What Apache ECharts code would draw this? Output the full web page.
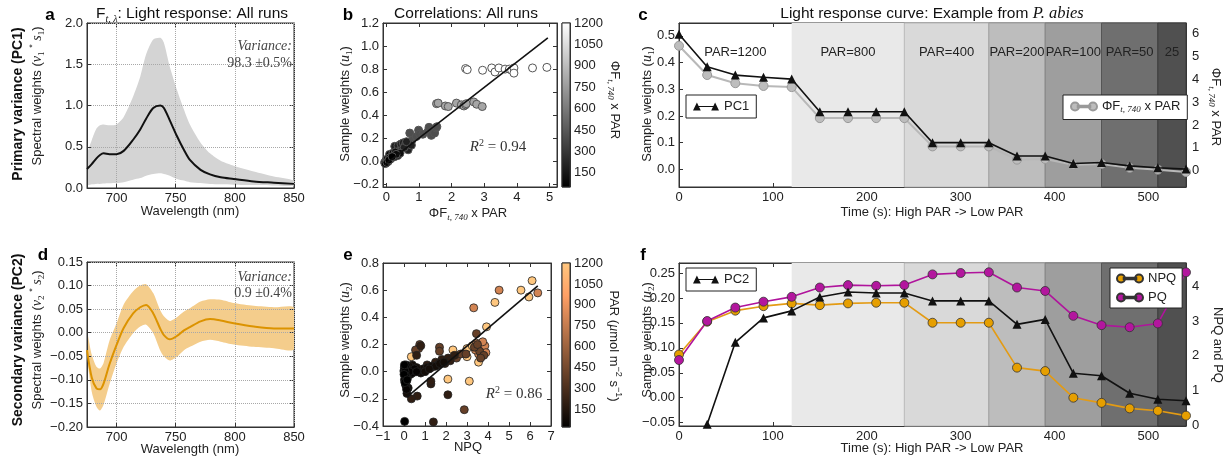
<!DOCTYPE html>
<html><head><meta charset="utf-8">
<script src="https://cdn.jsdelivr.net/npm/echarts@6/dist/echarts.min.js"></script>
<style>html,body{margin:0;padding:0;background:#fff}#c{width:1231px;height:463px}</style>
</head><body><div id="c"></div>
<script>
// ---------------- DATA ----------------
// Panels a / d : spectral weights vs wavelength
const wavelength = [675,679,683,686,689,694,700,706,714,720,725,731,737,740,745,751,757,762,771,779,788,799,816,833,850];
const pc1Mean  = [0.23,0.29,0.36,0.40,0.42,0.41,0.41,0.45,0.585,0.71,0.84,0.97,1.0,0.97,0.82,0.63,0.46,0.34,0.22,0.165,0.13,0.11,0.08,0.065,0.05];
const pc1Upper = [0.40,0.58,0.72,0.76,0.77,0.76,0.77,0.86,1.11,1.35,1.62,1.80,1.82,1.76,1.47,1.19,0.95,0.77,0.55,0.42,0.33,0.27,0.20,0.14,0.09];
const pc1Lower = [0.04,0.045,0.05,0.05,0.055,0.058,0.06,0.07,0.10,0.12,0.15,0.17,0.18,0.17,0.15,0.11,0.09,0.07,0.06,0.05,0.045,0.04,0.035,0.03,0.03];
const pc2Mean  = [-0.037,-0.095,-0.118,-0.12,-0.108,-0.067,-0.026,0.01,0.041,0.054,0.059,0.041,0.008,-0.005,-0.014,-0.007,0.005,0.012,0.024,0.029,0.026,0.020,0.013,0.009,0.009];
const pc2Upper = [0.002,-0.046,-0.072,-0.076,-0.064,-0.017,0.02,0.06,0.088,0.10,0.103,0.084,0.047,0.035,0.025,0.033,0.045,0.052,0.066,0.071,0.070,0.063,0.057,0.054,0.053];
const pc2Lower = [-0.047,-0.125,-0.157,-0.165,-0.153,-0.11,-0.065,-0.03,-0.001,0.013,0.017,-0.001,-0.038,-0.05,-0.059,-0.051,-0.037,-0.03,-0.019,-0.015,-0.019,-0.025,-0.030,-0.033,-0.035];

// Panel b : sample weights u1 vs PhiF x PAR, grouped by PAR
const bPAR = [1200, 800, 400, 200, 100, 50];
const b1200 = [[2.43,0.805],[2.48,0.795],[2.95,0.79],[3.23,0.81],[3.33,0.775],[3.45,0.81],[3.64,0.80],[3.77,0.80],[3.84,0.79],[3.91,0.81],[3.91,0.765],[4.48,0.81],[4.92,0.815]];
const b800  = [[1.54,0.50],[1.59,0.505],[1.81,0.48],[1.90,0.475],[2.15,0.505],[2.30,0.49],[2.38,0.48],[2.43,0.49],[2.45,0.50],[2.68,0.515],[2.77,0.495],[2.94,0.475]];
const b400  = [[0.72,0.245],[0.78,0.18],[0.92,0.215],[0.99,0.27],[1.02,0.235],[1.12,0.235],[1.28,0.26],[1.31,0.295],[1.38,0.225],[1.48,0.245],[1.52,0.29],[1.55,0.30]];
const b200  = [[0.26,0.13],[0.36,0.135],[0.45,0.15],[0.52,0.16],[0.60,0.155],[0.67,0.10],[0.77,0.14],[0.42,0.09],[0.55,0.12],[0.32,0.08],[0.62,0.17]];
const b100  = [[0.10,0.06],[0.20,0.07],[0.28,0.08],[0.35,0.05],[0.42,0.07],[0.15,0.03],[0.25,0.04],[0.30,0.06]];
const b50   = [[-0.05,-0.01],[0.0,0.01],[0.03,0.02],[0.06,0.0],[0.10,0.03],[0.13,0.02],[-0.03,-0.02],[0.02,-0.01],[0.08,0.01],[0.18,0.04]];
const bFit  = [[-0.05,-0.03],[4.95,1.07]];
const bColorRange = [50, 1200];
const cbTicks = [150,300,450,600,750,900,1050,1200];

// Panels c / f : time course
const time = [0,30,60,90,120,150,180,210,240,270,300,330,360,390,420,450,480,510,540];
const pc1Time = [0.506,0.384,0.353,0.345,0.338,0.216,0.216,0.216,0.216,0.10,0.10,0.10,0.05,0.05,0.022,0.026,0.013,0.006,0.001];
const phiF    = [5.47,4.19,3.83,3.71,3.66,2.30,2.30,2.30,2.30,1.06,1.06,1.06,0.48,0.51,0.26,0.29,0.12,0.04,-0.06];
const pc2Time = [null,-0.053,0.111,0.160,0.174,0.202,0.212,0.210,0.210,0.194,0.194,0.194,0.147,0.157,0.049,0.044,0.009,-0.003,-0.006];
const npq     = [2.04,2.99,3.31,3.44,3.52,3.47,3.52,3.54,3.54,2.96,2.96,2.96,1.66,1.56,0.79,0.64,0.48,0.41,0.27];
const pq      = [1.88,3.01,3.40,3.57,3.71,3.98,4.05,4.03,4.05,4.36,4.40,4.42,3.98,3.88,3.16,2.89,2.83,2.94,4.42];
const bandEdges  = [0,120,240,330,390,450,510,540];
const bandLabels = ['PAR=1200','PAR=800','PAR=400','PAR=200','PAR=100','PAR=50','25'];

// Panel e : sample weights u2 vs NPQ, grouped by PAR
const ePAR = [1200, 800, 400, 200, 100, 50, 25];
const e1200 = [[6.10,0.67],[5.95,0.55],[5.57,0.60],[4.33,0.51],[3.93,0.33],[3.00,0.17],[2.33,0.16],[2.09,-0.055],[3.11,-0.07],[0.35,0.11],[3.55,0.07],[3.25,0.19],[3.60,0.20],[3.00,0.11]];
const e800  = [[6.37,0.58],[4.53,0.60],[3.32,0.47],[3.70,0.17],[3.45,0.21],[3.85,0.19],[3.55,0.13],[3.75,0.22],[3.40,0.16],[3.90,0.14]];
const e400  = [[3.45,0.28],[2.87,-0.28],[3.60,0.15],[3.80,0.12],[3.65,0.10],[3.35,0.18],[2.50,0.10],[2.70,0.13],[1.69,0.18],[1.69,0.15],[0.75,0.20],[0.70,0.17],[0.55,0.16],[3.50,0.20],[2.95,0.13]];
const e200  = [[1.40,-0.37],[2.09,-0.17],[1.28,-0.09],[1.28,-0.07],[0.63,-0.18],[0.35,-0.20],[0.80,0.19],[0.60,0.12],[1.10,0.05],[1.50,0.07],[1.80,0.09],[2.10,0.10],[2.20,0.08],[2.40,0.12],[1.95,0.06],[1.60,0.05],[1.30,0.03],[0.95,0.02]];
const e100  = [[0.14,-0.16],[0.20,-0.12],[0.10,-0.08],[0.15,-0.05],[0.30,-0.02],[0.50,0.0],[0.70,0.01],[0.90,0.02],[1.10,0.03],[1.30,0.04],[1.50,0.04],[1.70,0.06],[1.90,0.07],[0.40,0.05],[0.60,0.03],[0.80,-0.01],[1.00,0.0],[1.20,0.02],[0.25,0.04],[0.05,0.02]];
const e50   = [[0.0,0.0],[0.05,-0.02],[0.10,0.02],[0.15,0.0],[0.20,-0.01],[0.30,0.01],[0.40,-0.01],[0.50,0.02],[0.05,0.04],[0.10,-0.04],[0.02,-0.06],[0.08,-0.10],[0.12,-0.13],[0.25,0.0],[0.60,0.0]];
const e25   = [[0.03,-0.366],[0.0,0.01],[0.02,0.03],[0.05,0.0],[0.08,-0.03],[0.0,-0.02],[0.10,0.05],[0.04,-0.08],[0.15,-0.06],[0.02,0.05]];
const eFit  = [[0.14,-0.187],[6.37,0.631]];
const eColorRange = [25, 1200];

// ---------------- BUILD ----------------
const FONT = 'Liberation Sans', SERIF = 'Liberation Serif';
const zip = (xs, ys) => xs.map((x, i) => [x, ys[i]]);
const tagPAR = (groups, pars) => groups.flatMap((g, k) => g.map(p => [p[0], p[1], pars[k]]));
const bData = tagPAR([b1200,b800,b400,b200,b100,b50], bPAR);
const eData = tagPAR([e1200,e800,e400,e200,e100,e50,e25], ePAR);
const copper = ['#000000','#402819','#805032','#bf784c','#ff9f65','#ffc77f'];
const fmt = n => v => (v < 0 ? '\u2212' : '') + Math.abs(v).toFixed(n);

function vAxis(gridIndex, min, max, ticks, f, extra) {
  return Object.assign({
    type: 'value', gridIndex, min, max,
    axisLine: {show: true, onZero: false, lineStyle: {color: '#333'}},
    axisTick: {show: true, inside: true, length: 4, lineStyle: {color: '#333'}, customValues: ticks},
    axisLabel: {customValues: ticks, formatter: f, color: '#222', fontSize: 13, fontFamily: FONT, margin: 4},
    splitLine: {show: false}
  }, extra || {});
}
// tick-only mirror axis (matplotlib draws ticks on all four sides)
function mirror(gridIndex, min, max, ticks, position) {
  return {type: 'value', gridIndex, min, max, position,
    axisLine: {show: true, onZero: false, lineStyle: {color: '#333'}},
    axisTick: {show: true, inside: true, length: 4, lineStyle: {color: '#333'}, customValues: ticks},
    axisLabel: {show: false}, splitLine: {show: false}};
}
const dotted = {show: true, lineStyle: {color: '#a8a8a8', type: 'dotted', width: 1}};
const G = (left, top, width, height) => ({left, top, width, height, show: true, borderColor: '#333', borderWidth: 1, backgroundColor: 'transparent'});

const bandFill = ['rgba(0,0,0,0)','#e9e9e9','#d9d9d9','#bdbdbd','#9e9e9e','#6f6f6f','#505050'];
const bandBorder = ['rgba(0,0,0,0)','rgba(0,0,0,0)','#b8b8b8','#a0a0a0','#808080','#555555','#3a3a3a'];
function bands(withLabels) {
  const data = [];
  for (let i = 0; i < bandEdges.length - 1; i++) {
    data.push([{xAxis: bandEdges[i], name: withLabels ? bandLabels[i] : '',
      itemStyle: {color: bandFill[i], borderColor: bandBorder[i], borderWidth: 1}},
      {xAxis: bandEdges[i + 1]}]);
  }
  return {silent: true, data,
    label: {show: withLabels, position: 'insideTop', distance: 23, color: '#222', fontSize: 13, fontFamily: FONT}};
}

function colorbar(xi, yi, range, stops) {
  return {type: 'custom', xAxisIndex: xi, yAxisIndex: yi, silent: true, data: [[0, range[0]]],
    renderItem: (params, api) => {
      const p0 = api.coord([0, range[1]]), p1 = api.coord([1, range[0]]);
      return {type: 'rect', shape: {x: p0[0], y: p0[1], width: p1[0] - p0[0], height: p1[1] - p0[1]},
        style: {fill: new echarts.graphic.LinearGradient(0, 0, 0, 1, stops), stroke: '#333', lineWidth: 1}};
    }};
}

// shaded envelope between lower and upper, drawn through the axis scales
function band(xi, yi, lower, upper, color) {
  return {type: 'custom', xAxisIndex: xi, yAxisIndex: yi, silent: true, clip: true, z: 0,
    data: wavelength.map((w, i) => [w, lower[i], upper[i]]),
    renderItem: (params, api) => {
      if (params.dataIndex !== 0) return null;
      const top = wavelength.map((w, i) => api.coord([w, upper[i]]));
      const bot = wavelength.map((w, i) => api.coord([w, lower[i]])).reverse();
      return {type: 'polygon', shape: {points: top.concat(bot), smooth: 0.25}, style: {fill: color}};
    }};
}

const R = {
  n: {fontFamily: FONT, fontSize: 13, fill: '#222', color: '#222', lineHeight: 18},
  bo: {fontFamily: FONT, fontSize: 14, fontWeight: 'bold', fill: '#111', color: '#111', lineHeight: 18},
  i: {fontFamily: SERIF, fontSize: 14, fontStyle: 'italic', fill: '#222', color: '#222', lineHeight: 18},
  s: {fontFamily: SERIF, fontSize: 9, fontStyle: 'italic', fill: '#222', color: '#222', verticalAlign: 'bottom', lineHeight: 18},
  d: {fontFamily: SERIF, fontSize: 9, fill: '#222', color: '#222', verticalAlign: 'bottom', lineHeight: 18},
  p: {fontFamily: FONT, fontSize: 9, fill: '#222', color: '#222', verticalAlign: 'top', lineHeight: 18},
  t: {fontFamily: FONT, fontSize: 15.5, fill: '#111', color: '#111', lineHeight: 20},
  ti: {fontFamily: SERIF, fontSize: 16.5, fontStyle: 'italic', fill: '#111', lineHeight: 20},
  ts: {fontFamily: SERIF, fontSize: 10, fontStyle: 'italic', fill: '#111', verticalAlign: 'bottom', lineHeight: 20},
  v: {fontFamily: SERIF, fontSize: 14, fontStyle: 'italic', fill: '#444', lineHeight: 17},
  vn: {fontFamily: SERIF, fontSize: 14, fill: '#444', lineHeight: 17},
  r: {fontFamily: SERIF, fontSize: 15, fontStyle: 'italic', fill: '#333', lineHeight: 18},
  rn: {fontFamily: SERIF, fontSize: 15, fill: '#333', lineHeight: 18},
  rp: {fontFamily: SERIF, fontSize: 10, fill: '#333', verticalAlign: 'top', lineHeight: 18}
};
const T = (text, x, y, rot, style) => ({type: 'text', x, y, rotation: rot || 0, silent: true, z: 100,
  style: Object.assign({text, rich: R, align: 'center', verticalAlign: 'middle', fontFamily: FONT, fontSize: 13, fill: '#222'}, style || {})});
const L = (t, x, y) => T(t, x, y, 0, {fontSize: 17, fontWeight: 'bold', fill: '#000'});
const UP = Math.PI / 2, DOWN = -Math.PI / 2;
const phiLabel = '{n|\u03a6F}{s|t, 740}{n| x PAR}';

// legend icons in the style of two markers joined by a line
const ICON_CIRCLES = 'path://M0.5,5a4.5,4.5 0 1,0 9,0a4.5,4.5 0 1,0 -9,0Z M20.5,5a4.5,4.5 0 1,0 9,0a4.5,4.5 0 1,0 -9,0Z M8,4.3h14v1.4h-14Z';
const ICON_TRI = 'path://M0,9.5L4.5,0.5L9,9.5Z M21,9.5L25.5,0.5L30,9.5Z M6,4.3h18v1.4h-18Z';

const legendBase = {borderColor: '#222', borderWidth: 1, backgroundColor: '#fff', padding: [5, 7], itemWidth: 26, itemHeight: 9,
  itemGap: 6, selectedMode: false, borderRadius: 0, z: 20,
  textStyle: {fontSize: 13, fontFamily: FONT, color: '#222', rich: {n: {fontSize: 13, fontFamily: FONT, color: '#222'}, s: {fontSize: 9, fontFamily: SERIF, fontStyle: 'italic', color: '#222', verticalAlign: 'bottom', lineHeight: 16}}}};

const aX = [700, 750, 800, 850], tX = [0, 100, 200, 300, 400, 500];
const aY = [0, 0.5, 1, 1.5, 2], dY = [-0.2, -0.15, -0.1, -0.05, 0, 0.05, 0.1, 0.15];
const bX = [0, 1, 2, 3, 4, 5], bY = [-0.2, 0, 0.2, 0.4, 0.6, 0.8, 1.0, 1.2];
const eX = [-1, 0, 1, 2, 3, 4, 5, 6, 7], eY = [-0.4, -0.2, 0, 0.2, 0.4, 0.6, 0.8];

const option = {
  animation: false,
  backgroundColor: '#fff',
  textStyle: {fontFamily: FONT},
  grid: [G(87, 23, 207, 165), G(383, 23, 174, 164), G(562, 23, 8, 164), G(679, 23, 507, 164),
         G(87, 262, 207, 165), G(383, 263, 168, 163), G(562, 263, 8, 164), G(679, 263, 507, 163)],
  xAxis: [
    vAxis(0, 675, 850, aX, v => String(v), {splitLine: dotted, z: 1}),
    vAxis(1, -0.1, 5.23, bX, v => String(v)),
    {type: 'value', gridIndex: 2, min: 0, max: 1, show: false},
    vAxis(3, 0, 540, tX, v => String(v)),
    vAxis(4, 675, 850, aX, v => String(v), {splitLine: dotted, z: 1}),
    vAxis(5, -1, 7, eX, fmt(0)),
    {type: 'value', gridIndex: 6, min: 0, max: 1, show: false},
    vAxis(7, 0, 540, tX, v => String(v)),
    // top mirrors
    mirror(0, 675, 850, aX, 'top'), mirror(1, -0.1, 5.23, bX, 'top'), mirror(3, 0, 540, tX, 'top'),
    mirror(4, 675, 850, aX, 'top'), mirror(5, -1, 7, eX, 'top'), mirror(7, 0, 540, tX, 'top')
  ],
  yAxis: [
    vAxis(0, 0, 2, aY, fmt(1), {splitLine: dotted, z: 1}),
    vAxis(1, -0.223, 1.2, bY, fmt(1)),
    vAxis(2, bColorRange[0], bColorRange[1], cbTicks, v => String(v), {position: 'right'}),
    vAxis(3, -0.066, 0.548, [0, 0.1, 0.2, 0.3, 0.4, 0.5], fmt(1)),
    vAxis(3, -0.72, 6.47, [0, 1, 2, 3, 4, 5, 6], v => String(v), {position: 'right', axisLabel: {customValues: [0,1,2,3,4,5,6], color: '#222', fontSize: 13, fontFamily: FONT, margin: 6}}),
    vAxis(4, -0.2, 0.15, dY, fmt(2), {splitLine: dotted, z: 1}),
    vAxis(5, -0.4, 0.8, eY, fmt(1)),
    vAxis(6, eColorRange[0], eColorRange[1], cbTicks, v => String(v), {position: 'right'}),
    vAxis(7, -0.0567, 0.27, [-0.05, 0, 0.05, 0.1, 0.15, 0.2, 0.25], fmt(2)),
    vAxis(7, -0.03, 4.69, [0, 1, 2, 3, 4], v => String(v), {position: 'right', axisLabel: {customValues: [0,1,2,3,4], color: '#222', fontSize: 13, fontFamily: FONT, margin: 6}}),
    // right mirrors
    mirror(0, 0, 2, aY, 'right'), mirror(1, -0.223, 1.2, bY, 'right'),
    mirror(4, -0.2, 0.15, dY, 'right'), mirror(5, -0.4, 0.8, eY, 'right')
  ],
  visualMap: [
    {type: 'continuous', show: false, seriesIndex: 3, dimension: 2, min: bColorRange[0], max: bColorRange[1], inRange: {color: ['#000000', '#ffffff']}},
    {type: 'continuous', show: false, seriesIndex: 10, dimension: 2, min: eColorRange[0], max: eColorRange[1], inRange: {color: copper}}
  ],
  legend: [
    Object.assign({}, legendBase, {data: [{name: 'PC1', icon: ICON_TRI}], left: 686, top: 95}),
    Object.assign({}, legendBase, {data: [{name: 'PHIF', icon: ICON_CIRCLES}], left: 1063, top: 95, formatter: () => '{n|\u03a6F}{s|t, 740}{n| x PAR}'}),
    Object.assign({}, legendBase, {data: [{name: 'PC2', icon: ICON_TRI}], left: 686, top: 268}),
    Object.assign({}, legendBase, {data: [{name: 'NPQ', icon: ICON_CIRCLES}, {name: 'PQ', icon: ICON_CIRCLES}], left: 1110, top: 268, orient: 'vertical', padding: [4, 6]})
  ],
  series: [
    // 0-1 panel a
    band(0, 0, pc1Lower, pc1Upper, '#d4d4d4'),
    {type: 'line', xAxisIndex: 0, yAxisIndex: 0, data: zip(wavelength, pc1Mean), symbol: 'none', smooth: 0.3,
      lineStyle: {color: '#111', width: 2}, z: 3},
    // 2 panel b fit, 3 scatter
    {type: 'line', xAxisIndex: 1, yAxisIndex: 1, data: bFit, symbol: 'none', lineStyle: {color: '#111', width: 1.6}, z: 4},
    {type: 'scatter', xAxisIndex: 1, yAxisIndex: 1, data: bData, symbolSize: 8,
      itemStyle: {borderColor: '#555', borderWidth: 1, opacity: 1}, z: 3},
    // 4 colorbar b
    colorbar(2, 2, bColorRange, [{offset: 0, color: '#ffffff'}, {offset: 1, color: '#000000'}]),
    // 5 panel c PhiF (right axis) + bands
    {type: 'line', name: 'PHIF', xAxisIndex: 3, yAxisIndex: 4, data: zip(time, phiF), symbol: 'circle', symbolSize: 9,
      lineStyle: {color: '#b8b8b8', width: 2}, itemStyle: {color: '#bdbdbd', borderColor: '#999', borderWidth: 1}, z: 2,
      markArea: bands(true)},
    // 6 panel c PC1
    {type: 'line', name: 'PC1', xAxisIndex: 3, yAxisIndex: 3, data: zip(time, pc1Time), symbol: 'triangle', symbolSize: 9,
      lineStyle: {color: '#111', width: 1.6}, itemStyle: {color: '#111'}, z: 3},
    // 7-8 panel d
    band(4, 5, pc2Lower, pc2Upper, '#f4cd8c'),
    {type: 'line', xAxisIndex: 4, yAxisIndex: 5, data: zip(wavelength, pc2Mean), symbol: 'none', smooth: 0.3,
      lineStyle: {color: '#dc9300', width: 2}, z: 3},
    // 9 fit e, 10 scatter e
    {type: 'line', xAxisIndex: 5, yAxisIndex: 6, data: eFit, symbol: 'none', lineStyle: {color: '#111', width: 1.6}, z: 4},
    {type: 'scatter', xAxisIndex: 5, yAxisIndex: 6, data: eData, symbolSize: 8,
      itemStyle: {borderColor: '#222', borderWidth: 0.8, opacity: 1}, z: 3},
    // 11 colorbar e
    colorbar(6, 7, eColorRange, copper.slice().reverse().map((c, i) => ({offset: i / (copper.length - 1), color: c}))),
    // 12-14 panel f
    {type: 'line', name: 'NPQ', xAxisIndex: 7, yAxisIndex: 9, data: zip(time, npq), symbol: 'circle', symbolSize: 9,
      lineStyle: {color: '#e39b14', width: 1.6}, itemStyle: {color: '#e69f00', borderColor: '#333', borderWidth: 0.8}, z: 3,
      markArea: bands(false)},
    {type: 'line', name: 'PQ', xAxisIndex: 7, yAxisIndex: 9, data: zip(time, pq), symbol: 'circle', symbolSize: 9,
      lineStyle: {color: '#b0149c', width: 1.6}, itemStyle: {color: '#b3169e', borderColor: '#333', borderWidth: 0.8}, z: 3},
    {type: 'line', name: 'PC2', xAxisIndex: 7, yAxisIndex: 8, data: zip(time, pc2Time), symbol: 'triangle', symbolSize: 9,
      lineStyle: {color: '#111', width: 1.6}, itemStyle: {color: '#111'}, z: 4}
  ],
  graphic: [
    L('a', 50, 15), L('b', 348, 15), L('c', 643, 15), L('d', 43, 255), L('e', 348, 255), L('f', 643, 255),
    T('{t|F}{ts|t, \u03bb}{t|: Light response: All runs}', 192, 14),
    T('{t|Correlations: All runs}', 466, 14),
    T('{t|Light response curve: Example from }{ti|P. abies}', 932, 14),
    // y-axis names
    T('{bo|Primary variance (PC1)}', 18, 104, UP),
    T('{n|Spectral weights (}{i|v}{d|1}{n| }{p|*}{n| }{i|s}{d|1}{n|)}', 37, 96, UP),
    T('{bo|Secondary variance (PC2)}', 18, 340, UP),
    T('{n|Spectral weights (}{i|v}{d|2}{n| }{p|*}{n| }{i|s}{d|2}{n|)}', 37, 340, UP),
    T('{n|Sample weights (}{i|u}{d|1}{n|)}', 345, 104, UP),
    T('{n|Sample weights (}{i|u}{d|2}{n|)}', 345, 340, UP),
    T('{n|Sample weights (}{i|u}{d|1}{n|)}', 647, 104, UP),
    T('{n|Sample weights (}{i|u}{d|2}{n|)}', 647, 340, UP),
    // right-side names
    T(phiLabel, 615, 100, DOWN),
    T('{n|PAR (}{i|\u03bc}{n|mol m}{p|\u22122}{n| s}{p|\u22121}{n|)}', 614, 346, DOWN),
    T(phiLabel, 1216, 107, DOWN),
    T('{n|NPQ and PQ}', 1218, 345, DOWN),
    // x-axis names
    T('{n|Wavelength (nm)}', 190, 211),
    T(phiLabel, 468, 213),
    T('{n|Time (s): High PAR -> Low PAR}', 932, 212),
    T('{n|Wavelength (nm)}', 190, 449),
    T('{n|NPQ}', 468, 447),
    T('{n|Time (s): High PAR -> Low PAR}', 932, 448),
    // annotations
    T('{v|Variance:}', 292, 46, 0, {align: 'right'}),
    T('{vn|98.3 \u00b10.5%}', 292, 63, 0, {align: 'right'}),
    T('{v|Variance:}', 292, 277, 0, {align: 'right'}),
    T('{vn|0.9 \u00b10.4%}', 292, 293, 0, {align: 'right'}),
    T('{r|R}{rp|2}{rn| = 0.94}', 498, 147),
    T('{r|R}{rp|2}{rn| = 0.86}', 514, 394)
  ]
};
const chart = echarts.init(document.getElementById('c'));
chart.setOption(option);
</script></body></html>
